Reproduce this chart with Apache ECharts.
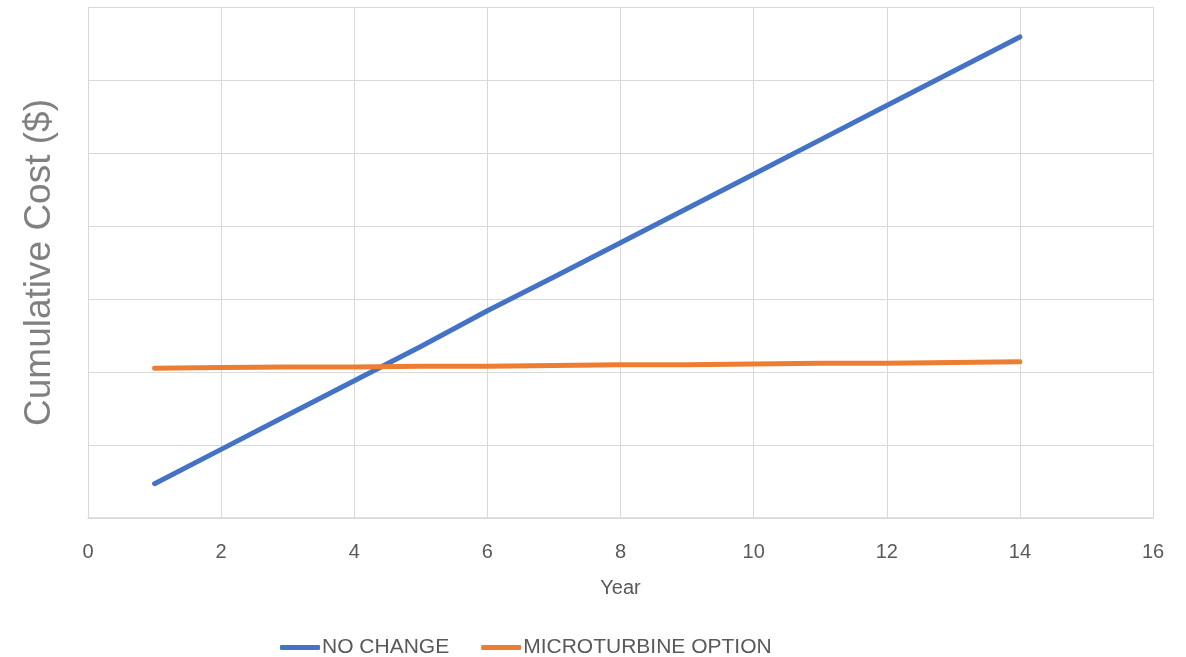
<!DOCTYPE html>
<html>
<head>
<meta charset="utf-8">
<script src="https://cdn.jsdelivr.net/npm/echarts@6/dist/echarts.min.js"></script>
<style>html,body{margin:0;padding:0;background:#fff;}#c{width:1186px;height:657px;}</style>
</head>
<body>
<div id="c"></div>
<script>
const years = [1,2,3,4,5,6,7,8,9,10,11,12,13,14];
const noChange = [0.47,0.94,1.41,1.88,2.35,2.84,3.30,3.77,4.24,4.71,5.18,5.65,6.12,6.59];
const microturbine = [2.05,2.06,2.07,2.07,2.08,2.08,2.09,2.10,2.10,2.11,2.12,2.12,2.13,2.14];
const xTicks = [0,2,4,6,8,10,12,14,16];
const seriesNames = ['NO CHANGE','MICROTURBINE OPTION'];

const chart = echarts.init(document.getElementById('c'), null, {renderer:'canvas'});
const font = 'Liberation Sans, Arial, sans-serif';
chart.setOption({
  animation:false,
  backgroundColor:'#fff',
  grid:{left:88,right:33,top:7,bottom:139,containLabel:false},
  legend:{
    top:632,left:275,
    itemWidth:40,itemHeight:5,itemGap:32,
    icon:'roundRect',
    textStyle:{color:'#595959',fontSize:21,fontFamily:font,padding:[0,0,0,-3]},
    data:seriesNames
  },
  xAxis:{
    type:'value',min:xTicks[0],max:xTicks[xTicks.length-1],interval:2,
    name:'Year',nameLocation:'middle',nameGap:60,
    nameTextStyle:{color:'#595959',fontSize:20,fontFamily:font},
    axisLine:{show:true,lineStyle:{color:'#d9d9d9',width:1.5}},
    axisTick:{show:false},
    axisLabel:{color:'#595959',fontSize:20,margin:24,fontFamily:font},
    splitLine:{show:true,lineStyle:{color:'#d9d9d9',width:1}}
  },
  yAxis:{
    type:'value',min:0,max:7,interval:1,
    name:'Cumulative Cost ($)',nameLocation:'middle',nameRotate:90,nameGap:30,
    nameTextStyle:{color:'#808080',fontSize:37,fontFamily:font},
    axisLine:{show:true,lineStyle:{color:'#d9d9d9',width:1}},
    axisTick:{show:false},
    axisLabel:{show:false},
    splitLine:{show:true,lineStyle:{color:'#d9d9d9',width:1}}
  },
  series:[
    {name:seriesNames[0],type:'line',data:years.map((y,i)=>[y,noChange[i]]),
     showSymbol:false,symbol:'none',itemStyle:{color:'#4472C4'},
     lineStyle:{color:'#4472C4',width:5,cap:'round',join:'round'}},
    {name:seriesNames[1],type:'line',data:years.map((y,i)=>[y,microturbine[i]]),
     showSymbol:false,symbol:'none',itemStyle:{color:'#ED7D31'},
     lineStyle:{color:'#ED7D31',width:5,cap:'round',join:'round'}}
  ]
});
</script>
</body>
</html>
